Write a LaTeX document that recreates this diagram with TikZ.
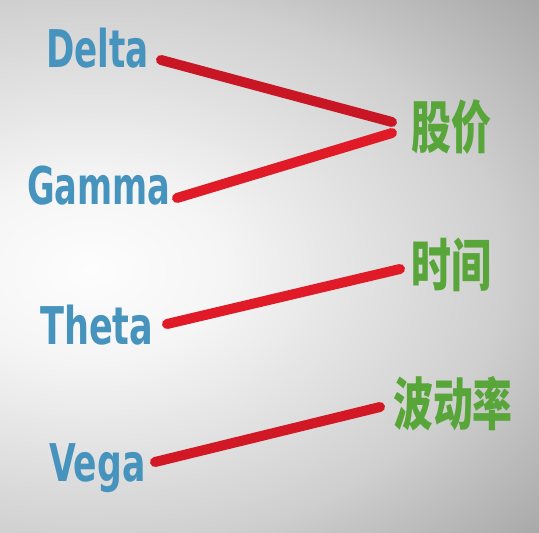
\documentclass[tikz,border=0pt]{standalone}
\usepackage{fontspec}
\newfontfamily\latfont{DejaVu Sans Condensed}
\newfontfamily\cjk{Noto Sans CJK SC}
\definecolor{gblue}{RGB}{70,148,190}
\definecolor{cgreen}{RGB}{88,166,58}
\definecolor{redA}{RGB}{200,22,36}
\definecolor{redB}{RGB}{224,26,38}
\definecolor{bgA}{RGB}{253,253,253}
\definecolor{bgB}{RGB}{245,245,245}
\definecolor{bgC}{RGB}{207,207,207}
\definecolor{bgD}{RGB}{199,199,199}
\definecolor{bgE}{RGB}{166,166,166}
\definecolor{bgF}{RGB}{150,150,150}
\pgfdeclareradialshading{bgshade}{\pgfpoint{0bp}{0bp}}{%
  color(0bp)=(bgA); color(3.75bp)=(bgB); color(11.5bp)=(bgC);
  color(12.5bp)=(bgD); color(17bp)=(bgE); color(25bp)=(bgF); color(50bp)=(bgF)}
\begin{document}
\begin{tikzpicture}[x=1pt,y=-1pt,
  greek/.style={anchor=base west, inner sep=0pt, text=gblue,
    font=\latfont\bfseries\fontsize{52}{52}\selectfont},
  cn/.style={anchor=center, inner sep=0pt, text=cgreen,
    font=\cjk\bfseries\fontsize{57}{57}\selectfont},
  link/.style={line width=10pt, line cap=round}]
\useasboundingbox (0,0) rectangle (539,533);
\begin{scope}
  \clip (0,0) rectangle (539,533);
  \shade[shading=bgshade] (90,270) ellipse (900 and 600);
\end{scope}
% Greek labels
\node[greek] (d) at (46,67) {\scalebox{0.73}[1]{Delta}};
\node[greek] (g) at (27,204) {\scalebox{0.72}[1]{Gamma}};
\node[greek] (t) at (40,344) {\scalebox{0.75}[1]{Theta}};
\node[greek] (v) at (49,481) {\scalebox{0.74}[1]{Vega}};
% Chinese labels
\node[cn] (p) at (451,127) {\scalebox{0.7}[1]{股价}};
\node[cn] (s) at (451,265) {\scalebox{0.7}[1]{时间}};
\node[cn] (b) at (453,404) {\scalebox{0.7}[1]{波动率}};
% connector ends
\coordinate (d1) at (161,60);
\coordinate (p1) at (392,122);
\coordinate (g1) at (177,198);
\coordinate (p2) at (392,133);
\coordinate (t1) at (167,324);
\coordinate (s1) at (400,269);
\coordinate (v1) at (155,462);
\coordinate (b1) at (380,407);
\draw[link, redA] (d1) -- (p1);
\draw[link, redB] (g1) -- (p2);
\draw[link, redB] (t1) -- (s1);
\draw[link, redA!60!redB] (v1) -- (b1);
\end{tikzpicture}
\end{document}
